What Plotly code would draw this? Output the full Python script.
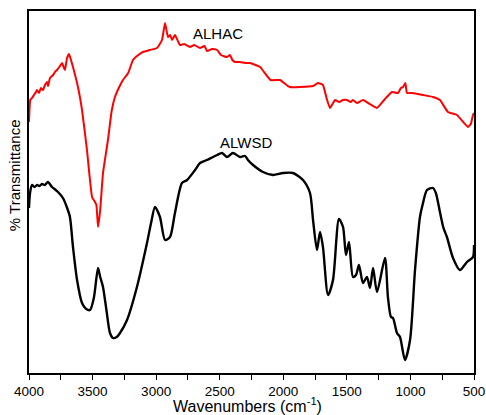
import plotly.graph_objects as go

# ALHAC (red) spectrum: wavenumber (cm-1) and transmittance (arb. units)
alhac_wn = [4000, 3990, 3976, 3961, 3945, 3937, 3921, 3906, 3890, 3874, 3858, 3850, 3835, 3811, 3796, 3780,
            3756, 3740, 3725, 3717, 3701, 3685, 3670, 3654, 3615, 3583, 3544, 3504, 3481, 3470, 3457, 3440,
            3418, 3379, 3350, 3324, 3290, 3261, 3220, 3182, 3140, 3104, 3050, 2993, 2954, 2930, 2907, 2890,
            2875, 2852, 2813, 2780, 2734, 2700, 2655, 2620, 2600, 2560, 2521, 2490, 2443, 2420, 2400, 2380,
            2340, 2300, 2262, 2183, 2100, 2026, 1950, 1869, 1766, 1727, 1688, 1660, 1633, 1593, 1560, 1530,
            1499, 1470, 1452, 1420, 1373, 1320, 1263, 1200, 1145, 1098, 1075, 1058, 1040, 1027, 988, 900,
            823, 768, 705, 634, 547, 525, 508, 500]
alhac_t = [251, 273, 275, 278, 281, 283, 280, 285, 283, 288, 291, 287, 295, 298, 301, 303,
           307, 310, 305, 303, 315, 319, 313, 306, 286, 263, 223, 176, 171, 168, 146, 163,
           200, 233, 262, 276, 286, 293, 300, 313, 318, 321, 323, 325, 333, 350, 336, 338,
           333, 338, 328, 329, 326, 328, 325, 327, 322, 324, 323, 318, 316, 318, 313, 311,
           311, 310, 310, 306, 293, 293, 286, 286, 287, 290, 288, 275, 265, 273, 271, 273,
           273, 271, 273, 270, 273, 269, 265, 274, 281, 280, 285, 286, 290, 280, 280, 278,
           276, 273, 261, 258, 246, 249, 258, 260]

# ALWSD (black) spectrum
alwsd_wn = [4000, 3992, 3976, 3957, 3937, 3918, 3898, 3875, 3851, 3819, 3790, 3772, 3733, 3700, 3678, 3654,
            3622, 3583, 3550, 3520, 3490, 3457, 3440, 3418, 3390, 3363, 3339, 3310, 3284, 3229, 3151, 3072,
            3040, 3009, 2970, 2930, 2891, 2852, 2797, 2757, 2694, 2655, 2600, 2553, 2520, 2482, 2443, 2396,
            2340, 2300, 2278, 2238, 2160, 2081, 2002, 1924, 1845, 1790, 1766, 1735, 1711, 1688, 1648, 1609,
            1562, 1530, 1507, 1483, 1452, 1428, 1405, 1373, 1342, 1318, 1294, 1263, 1200, 1177, 1153, 1137,
            1106, 1082, 1043, 1003, 964, 925, 901, 870, 823, 800, 768, 740, 713, 665, 611, 555, 508, 500]
alwsd_t = [165, 180, 188, 186, 188, 187, 189, 188, 191, 186, 183, 181, 175, 165, 156, 126,
           93, 70, 64, 63, 75, 105, 96, 86, 62, 40, 35, 36, 40, 53, 86, 130,
           150, 166, 156, 133, 136, 160, 190, 193, 203, 210, 213, 216, 218, 220, 216, 220,
           216, 217, 213, 208, 201, 198, 200, 200, 193, 180, 153, 123, 141, 126, 78, 93,
           154, 146, 118, 131, 96, 98, 108, 90, 96, 85, 105, 81, 115, 76, 56, 55,
           40, 36, 13, 33, 103, 156, 170, 183, 185, 180, 161, 145, 136, 115, 103, 111, 116, 128]

xticks = [4000, 3500, 3000, 2500, 2000, 1500, 1000, 500]

fig = go.Figure()
fig.add_trace(go.Scatter(x=alhac_wn, y=alhac_t, mode="lines", name="ALHAC",
                         line=dict(color="#ff0000", width=2, shape="spline", smoothing=0.4)))
fig.add_trace(go.Scatter(x=alwsd_wn, y=alwsd_t, mode="lines", name="ALWSD",
                         line=dict(color="#000000", width=2.4, shape="spline", smoothing=0.7)))

fig.add_annotation(x=2514, y=340, text="ALHAC", showarrow=False,
                   font=dict(size=15, color="black"))
fig.add_annotation(x=2294, y=231, text="ALWSD", showarrow=False,
                   font=dict(size=15, color="black"))
# axis titles
fig.add_annotation(xref="paper", yref="paper", x=0.492, y=-0.088, text="Wavenumbers (cm<sup>-1</sup>)",
                   showarrow=False, yanchor="middle", font=dict(size=16, color="black"))
fig.add_annotation(xref="paper", yref="paper", x=-0.031, y=0.547, text="% Transmittance",
                   showarrow=False, textangle=-90, xanchor="center", yanchor="middle",
                   font=dict(size=15, color="black"))

fig.update_layout(
    width=486, height=415,
    margin=dict(l=29, r=12, t=11, b=42),
    paper_bgcolor="white", plot_bgcolor="white",
    showlegend=False,
    font=dict(family="Arial, Liberation Sans, sans-serif", size=13.5, color="black"),
)
fig.update_xaxes(
    range=[4000, 500], tickvals=xticks, ticktext=[str(v) for v in xticks],
    showgrid=False, zeroline=False, showline=True, linecolor="black", linewidth=1.5,
    mirror=True, ticks="outside", ticklen=5, tickcolor="black", tickwidth=1.2,
    minor=dict(dtick=250, ticks="outside", ticklen=5, tickcolor="black", tickwidth=1.2),
    tickfont=dict(size=13.5), automargin=False,
)
fig.update_yaxes(
    range=[0, 362], showticklabels=False, ticks="", showgrid=False, zeroline=False,
    showline=True, linecolor="black", linewidth=1.5, mirror=True, automargin=False,
)
# remove the default 8px page margin so the figure fills the window exactly
fig.write_html("out.html", config={"displayModeBar": False},
               post_script="document.body.style.margin='0';document.body.style.overflow='hidden';")
